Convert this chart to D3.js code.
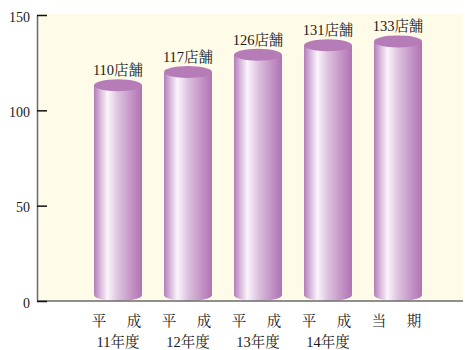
<!DOCTYPE html>
<html>
<head>
<meta charset="utf-8">
<script src="https://cdn.jsdelivr.net/npm/d3@7"></script>
<style>
  html, body { margin: 0; padding: 0; background: #ffffff; }
  svg { display: block; }
  text { font-family: "Liberation Serif", "DejaVu Serif", "Noto Serif CJK JP", "Noto Sans CJK JP", serif; fill: #1a1a1a; }
</style>
</head>
<body>
<svg id="chart" width="465" height="350"></svg>
<script>
// Store counts per fiscal year
const categories = ["H11", "H12", "H13", "H14", "current"];
const labelTop = ["平　成", "平　成", "平　成", "平　成", "当　期"];
const labelBottom = ["11年度", "12年度", "13年度", "14年度", ""];
const storeCounts = [110, 117, 126, 131, 133];
const valueSuffix = "店舗";
const yTicks = [0, 50, 100, 150];

const svg = d3.select("#chart");
const plotLeft = 37, plotRight = 463, plotTop = 15, plotBottom = 301;

const x = d3.scaleBand()
  .domain(categories)
  .range([83, 433])
  .paddingInner(22 / 70)
  .paddingOuter(11 / 70);

const y = d3.scaleLinear().domain([0, 150]).range([plotBottom, plotTop]);

// Plot background
svg.append("rect")
  .attr("x", plotLeft).attr("y", y(150) - 1)
  .attr("width", plotRight - plotLeft).attr("height", y(0) - y(150) + 1)
  .attr("fill", "#fefbe8");

// Cylinder shading
const defs = svg.append("defs");
const grad = defs.append("linearGradient")
  .attr("id", "cyl").attr("x1", "0").attr("x2", "1").attr("y1", "0").attr("y2", "0");
[
  [0, "#b37cb9"],
  [0.12, "#d5b3d8"],
  [0.28, "#fbf5fb"],
  [0.5, "#dcc2df"],
  [0.8, "#c291c4"],
  [1, "#b073b2"]
].forEach(([o, c]) => grad.append("stop").attr("offset", o).attr("stop-color", c));

const ry = 6;
const bw = x.bandwidth();

const bars = svg.append("g").selectAll("g")
  .data(categories.map((c, i) => ({ c, v: storeCounts[i] })))
  .join("g");

// body
bars.append("rect")
  .attr("x", d => x(d.c))
  .attr("y", d => y(d.v) - ry)
  .attr("width", bw)
  .attr("height", d => y(0) - y(d.v))
  .attr("fill", "url(#cyl)");

// bottom cap
bars.append("ellipse")
  .attr("cx", d => x(d.c) + bw / 2)
  .attr("cy", y(0) - ry)
  .attr("rx", bw / 2).attr("ry", ry)
  .attr("fill", "url(#cyl)");

// top cap
bars.append("ellipse")
  .attr("cx", d => x(d.c) + bw / 2)
  .attr("cy", d => y(d.v) - ry)
  .attr("rx", bw / 2).attr("ry", ry)
  .attr("fill", "#b67cb8");

// value labels
bars.append("text")
  .attr("x", d => x(d.c) + bw / 2)
  .attr("y", d => y(d.v) - 2 * ry - 4)
  .attr("text-anchor", "middle")
  .attr("font-size", 14.5)
  .text(d => d.v + valueSuffix);

// Baseline
svg.append("line")
  .attr("x1", plotLeft).attr("x2", plotRight)
  .attr("y1", y(0)).attr("y2", y(0))
  .attr("stroke", "#6a6a6a").attr("stroke-width", 1.5);

// Y axis with inward ticks
const yAxis = d3.axisLeft(y)
  .tickValues(yTicks)
  .tickSizeInner(-10)
  .tickSizeOuter(0)
  .tickPadding(7);

const ya = svg.append("g")
  .attr("transform", `translate(${plotLeft},0)`)
  .call(yAxis);
ya.select(".domain").attr("stroke", "#6a6a6a").attr("stroke-width", 1.5);
ya.selectAll(".tick line").attr("stroke", "#111").attr("stroke-width", 1.5);
ya.selectAll(".tick text")
  .attr("font-size", 14)
  .attr("font-family", "Liberation Serif, DejaVu Serif, serif")
  .attr("fill", "#1a1a1a")
  .attr("dy", "0.45em");

// Category labels
const xl = svg.append("g").selectAll("g")
  .data(categories.map((c, i) => ({ c, a: labelTop[i], b: labelBottom[i] })))
  .join("g");
xl.append("text")
  .attr("x", d => x(d.c) + bw / 2)
  .attr("y", 326)
  .attr("text-anchor", "middle")
  .attr("font-size", 14.5)
  .attr("letter-spacing", 3)
  .text(d => d.a);
xl.append("text")
  .attr("x", d => x(d.c) + bw / 2)
  .attr("y", 347)
  .attr("text-anchor", "middle")
  .attr("font-size", 14.5)
  .text(d => d.b);
</script>
</body>
</html>
